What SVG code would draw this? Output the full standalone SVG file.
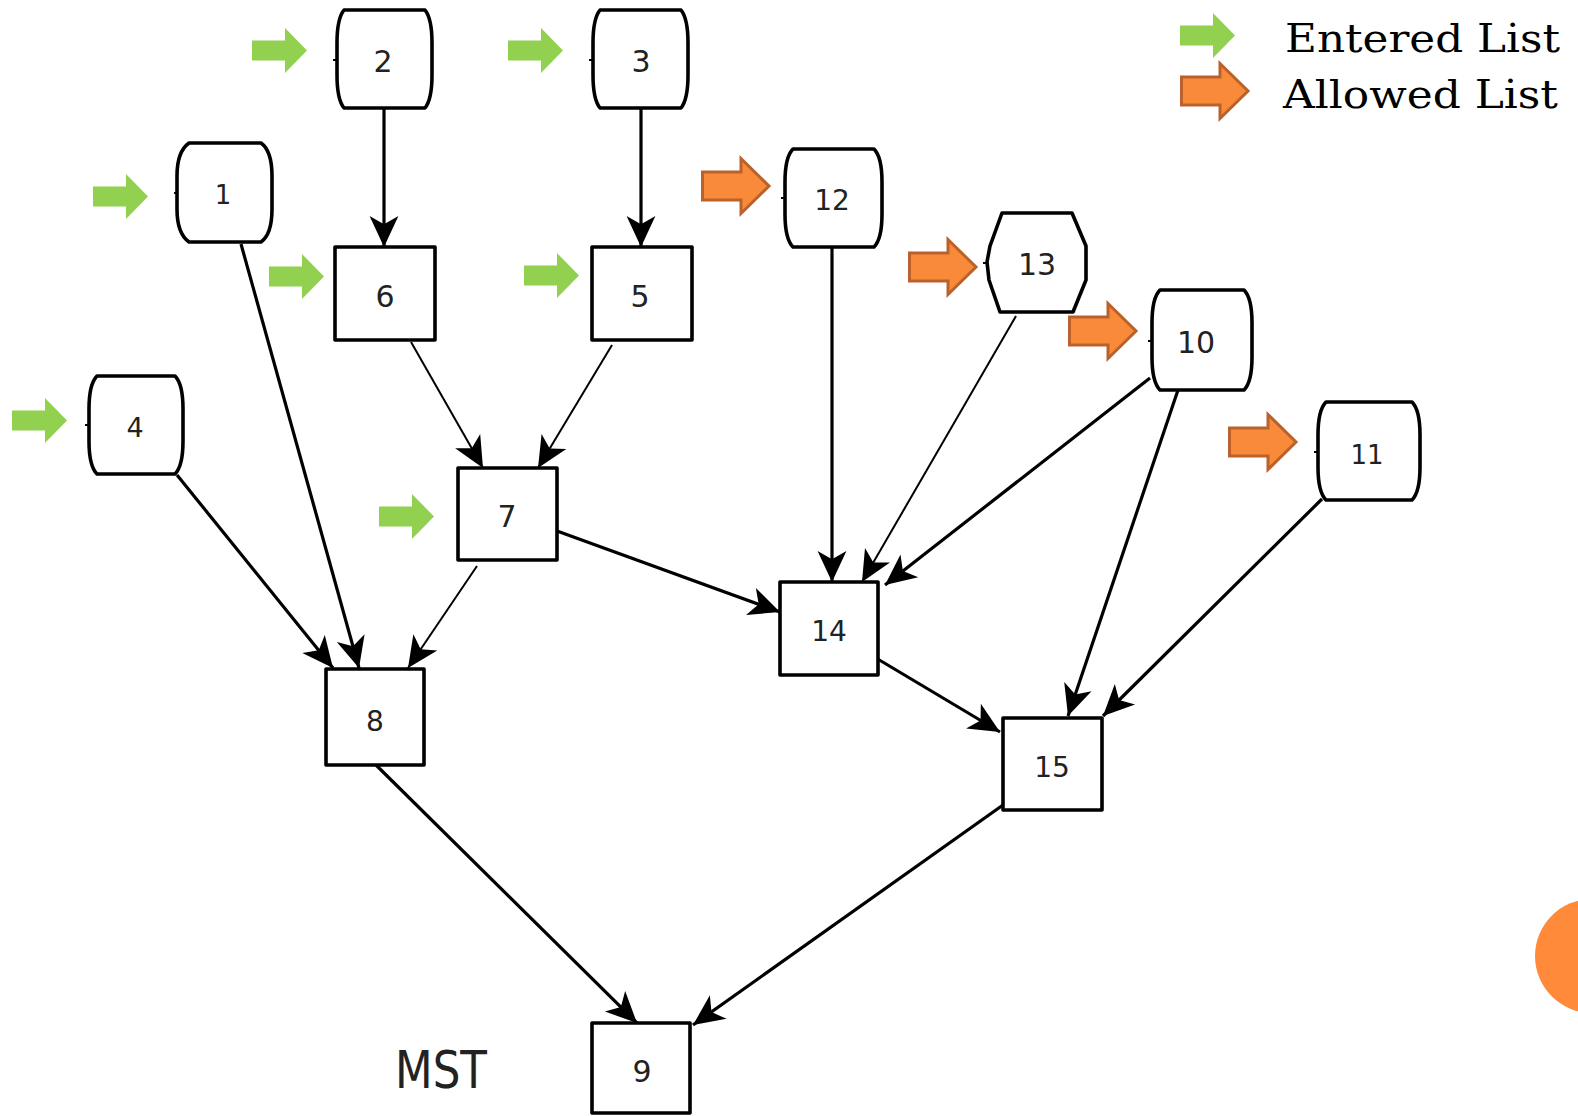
<svg xmlns="http://www.w3.org/2000/svg" xmlns:xlink="http://www.w3.org/1999/xlink" width="1578" height="1116" viewBox="0 0 1578 1116">
  <style>
    .node { fill: #ffffff; stroke: #000000; stroke-width: 3.6; stroke-linejoin: round; }
    .tick { stroke: #000000; stroke-width: 2; }
    .lbl { font-family: "DejaVu Sans", "Verdana", sans-serif; font-size: 30px; fill: #222222; text-anchor: middle; }
    .edge { fill: none; stroke: #000000; stroke-width: 3.2; marker-end: url(#head); }
    .thin { stroke-width: 2; }
    .legend { font-family: "DejaVu Serif", "Liberation Serif", serif; font-size: 39px; fill: #000000; }
    .green { fill: #92D050; }
    .orange { fill: #F88A3A; stroke: #BB612B; stroke-width: 3; }
  </style>
  <defs>
    <marker id="head" markerUnits="userSpaceOnUse" markerWidth="34" markerHeight="34" viewBox="-31 -16 33 32" refX="0" refY="0" orient="auto">
      <path d="M0,0 L-30,-14 L-22,0 L-30,14 Z" fill="#000000"/>
    </marker>
    <path id="garrow" d="M0,12.5 H33 V0 L55,22.5 L33,45 V32.5 H0 Z"/>
    <path id="oarrow" d="M1.5,15 H40 V1.5 L68,29 L40,56.5 V43 H1.5 Z"/>
  </defs>

  <rect width="1578" height="1116" fill="#ffffff"/>

  <!-- connectors -->
  <g id="edges">
    <line class="edge" x1="384" y1="108" x2="384" y2="247"/>
    <line class="edge" x1="641" y1="108" x2="641" y2="247"/>
    <line class="edge" x1="241" y1="244" x2="359" y2="668"/>
    <line class="edge" x1="177" y1="475" x2="333" y2="668"/>
    <line class="edge thin" x1="411" y1="342" x2="483" y2="468"/>
    <line class="edge thin" x1="612" y1="345" x2="538" y2="468"/>
    <line class="edge thin" x1="477" y1="566" x2="408" y2="668"/>
    <line class="edge" x1="557" y1="531" x2="780" y2="612"/>
    <line class="edge" x1="832" y1="247" x2="832" y2="582"/>
    <line class="edge thin" x1="1016" y1="316" x2="862" y2="582"/>
    <line class="edge" x1="1150" y1="378" x2="885" y2="585"/>
    <line class="edge" x1="1178" y1="390" x2="1068" y2="716"/>
    <line class="edge" x1="1322" y1="499" x2="1103" y2="716"/>
    <line class="edge" x1="876" y1="658" x2="1000" y2="732"/>
    <line class="edge" x1="376" y1="765" x2="637" y2="1023"/>
    <line class="edge" x1="1003" y1="805" x2="693" y2="1025"/>
  </g>

  <!-- barrel-shaped nodes -->
  <g id="node-1">
    <path class="node" d="M189,143 H261 C268,148 272,158 272,176 V209 C272,227 268,237 261,242 H189 C182,237 177,227 177,209 V176 C177,158 182,148 189,143 Z"/>
    <line class="tick" x1="174" y1="193" x2="177" y2="193"/>
    <text class="lbl" x="223" y="204" style="font-size:26px">1</text>
  </g>
  <g id="node-2">
    <path class="node" d="M344,10 H425 C429,15 432,25 432,43 V75 C432,93 429,103 425,108 H344 C340,103 337,93 337,75 V43 C337,25 340,15 344,10 Z"/>
    <line class="tick" x1="333" y1="60" x2="337" y2="60"/>
    <text class="lbl" x="383" y="72">2</text>
  </g>
  <g id="node-3">
    <path class="node" d="M600,10 H681 C685,15 688,25 688,43 V75 C688,93 685,103 681,108 H600 C596,103 593,93 593,75 V43 C593,25 596,15 600,10 Z"/>
    <line class="tick" x1="589" y1="60" x2="593" y2="60"/>
    <text class="lbl" x="641" y="72">3</text>
  </g>
  <g id="node-4">
    <path class="node" d="M97,376 H175 C180,381 183,391 183,409 V441 C183,459 180,469 175,474 H97 C92,469 89,459 89,441 V409 C89,391 92,381 97,376 Z"/>
    <line class="tick" x1="85" y1="425" x2="89" y2="425"/>
    <text class="lbl" x="135" y="437" style="font-size:27px">4</text>
  </g>
  <g id="node-12">
    <path class="node" d="M793,149 H874 C879,154 882,164 882,182 V214 C882,232 879,242 874,247 H793 C788,242 785,232 785,214 V182 C785,164 788,154 793,149 Z"/>
    <line class="tick" x1="781" y1="198" x2="785" y2="198"/>
    <text class="lbl" x="832" y="210" style="font-size:28px">12</text>
  </g>
  <g id="node-13">
    <path class="node" d="M1002,213 H1072 L1086,246 V280 L1073,312 H1000 L989,280 L987,262 L990,246 Z"/>
    <line class="tick" x1="983" y1="263" x2="987" y2="263"/>
    <text class="lbl" x="1037" y="275">13</text>
  </g>
  <g id="node-10">
    <path class="node" d="M1160,290 H1244 C1249,295 1252,305 1252,323 V357 C1252,375 1249,385 1244,390 H1160 C1155,385 1152,375 1152,357 V323 C1152,305 1155,295 1160,290 Z"/>
    <line class="tick" x1="1148" y1="341" x2="1152" y2="341"/>
    <text class="lbl" x="1196" y="353">10</text>
  </g>
  <g id="node-11">
    <path class="node" d="M1326,402 H1412 C1417,407 1420,417 1420,435 V467 C1420,485 1417,495 1412,500 H1326 C1321,495 1318,485 1318,467 V435 C1318,417 1321,407 1326,402 Z"/>
    <line class="tick" x1="1314" y1="452" x2="1318" y2="452"/>
    <text class="lbl" x="1367" y="464" style="font-size:26px">11</text>
  </g>

  <!-- square nodes -->
  <g id="node-6">
    <rect class="node" x="335" y="247" width="100" height="93"/>
    <text class="lbl" x="385" y="307">6</text>
  </g>
  <g id="node-5">
    <rect class="node" x="592" y="247" width="100" height="93"/>
    <text class="lbl" x="640" y="307">5</text>
  </g>
  <g id="node-7">
    <rect class="node" x="458" y="468" width="99" height="92"/>
    <text class="lbl" x="507" y="527">7</text>
  </g>
  <g id="node-14">
    <rect class="node" x="780" y="582" width="98" height="93"/>
    <text class="lbl" x="829" y="641" style="font-size:28px">14</text>
  </g>
  <g id="node-8">
    <rect class="node" x="326" y="669" width="98" height="96"/>
    <text class="lbl" x="375" y="731" style="font-size:28px">8</text>
  </g>
  <g id="node-15">
    <rect class="node" x="1003" y="718" width="99" height="92"/>
    <text class="lbl" x="1052" y="777" style="font-size:28px">15</text>
  </g>
  <g id="node-9">
    <rect class="node" x="592" y="1023" width="98" height="90"/>
    <text class="lbl" x="642" y="1082">9</text>
  </g>

  <!-- list markers beside the nodes -->
  <g id="entered-markers" class="green">
    <use xlink:href="#garrow" x="252" y="28"/>
    <use xlink:href="#garrow" x="508" y="28"/>
    <use xlink:href="#garrow" x="93" y="174"/>
    <use xlink:href="#garrow" x="269" y="254"/>
    <use xlink:href="#garrow" x="524" y="253"/>
    <use xlink:href="#garrow" x="12" y="398"/>
    <use xlink:href="#garrow" x="379" y="494"/>
  </g>
  <g id="allowed-markers" class="orange">
    <use xlink:href="#oarrow" x="701" y="157"/>
    <use xlink:href="#oarrow" x="908" y="238"/>
    <use xlink:href="#oarrow" x="1068" y="302"/>
    <use xlink:href="#oarrow" x="1228" y="413"/>
  </g>

  <!-- legend -->
  <g id="legend">
    <use class="green" xlink:href="#garrow" x="1180" y="13"/>
    <use class="orange" xlink:href="#oarrow" x="1180" y="62"/>
    <text class="legend" x="1285" y="52" textLength="275" lengthAdjust="spacingAndGlyphs">Entered List</text>
    <text class="legend" x="1283" y="108" textLength="275" lengthAdjust="spacingAndGlyphs">Allowed List</text>
  </g>

  <text id="mst" x="395" y="1088" font-family="DejaVu Sans, sans-serif" font-size="52" fill="#222222" textLength="92" lengthAdjust="spacingAndGlyphs">MST</text>

  <circle id="corner-dot" cx="1592" cy="956" r="57" fill="#FF8A3A"/>
</svg>
